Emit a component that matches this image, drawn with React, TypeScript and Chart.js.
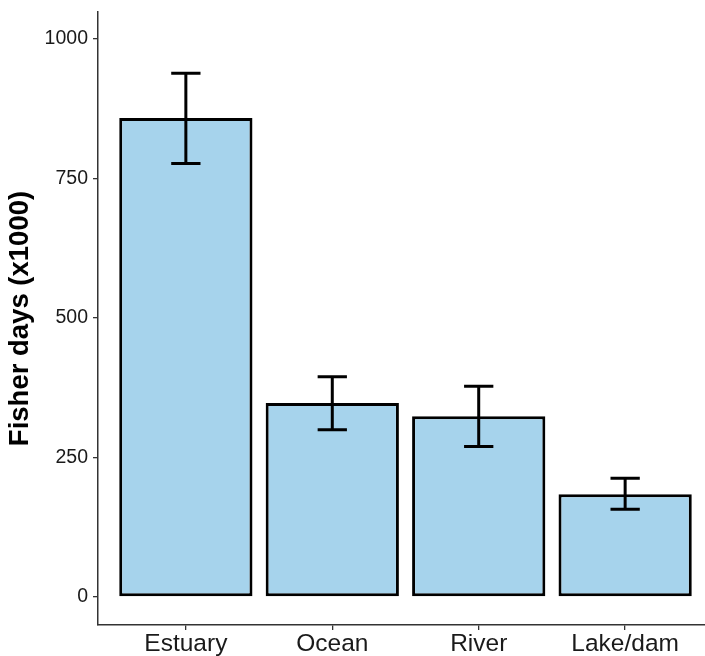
import React, { useEffect, useRef } from "react";
import { Chart, registerables } from "chart.js";

Chart.register(...registerables);

const categories = ["Estuary", "Ocean", "River", "Lake/dam"];
const positions = [1, 2, 3, 4];
const meanValues = [858.5, 347.7, 323.7, 184];
const lowerValues = [777, 299.8, 269.8, 157];
const upperValues = [938.8, 394.5, 377.7, 212.8];
const yTicks = [0, 250, 500, 750, 1000];

const FONT = "'Liberation Sans', Arial, sans-serif";

const errorBarPlugin = {
  id: "errorBars",
  afterDatasetsDraw(chart: any) {
    const { ctx, scales } = chart;
    const xs = scales.x;
    const ys = scales.y;
    ctx.save();
    ctx.strokeStyle = "#000";
    ctx.lineWidth = 3;
    ctx.lineCap = "butt";
    positions.forEach((p, i) => {
      const cx = xs.getPixelForValue(p);
      const half = (xs.getPixelForValue(p + 0.1) - xs.getPixelForValue(p - 0.1)) / 2;
      const yl = ys.getPixelForValue(lowerValues[i]);
      const yh = ys.getPixelForValue(upperValues[i]);
      ctx.beginPath();
      ctx.moveTo(cx, yl);
      ctx.lineTo(cx, yh);
      ctx.moveTo(cx - half, yh);
      ctx.lineTo(cx + half, yh);
      ctx.moveTo(cx - half, yl);
      ctx.lineTo(cx + half, yl);
      ctx.stroke();
    });
    ctx.restore();
  },
};

export default function App() {
  const ref = useRef<HTMLCanvasElement | null>(null);
  useEffect(() => {
    if (!ref.current) return;
    const chart = new Chart(ref.current, {
      type: "bar",
      data: {
        datasets: [
          {
            data: positions.map((p, i) => ({ x: p, y: meanValues[i] })),
            backgroundColor: "#A6D3EC",
            borderColor: "#000",
            borderWidth: 3,
            borderSkipped: false,
            categoryPercentage: 1,
            barPercentage: 0.91,
          },
        ],
      },
      options: {
        responsive: false,
        animation: false,
        devicePixelRatio: 1,
        layout: { padding: { top: 12, left: 0, right: 0, bottom: 0 } },
        plugins: { legend: { display: false }, tooltip: { enabled: false } },
        scales: {
          x: {
            type: "linear",
            offset: false,
            min: 0.4,
            max: 4.6,
            afterBuildTicks: (s: any) => {
              s.ticks = positions.map((v) => ({ value: v }));
            },
            afterFit: (s: any) => {
              s.height = 31;
              s.paddingLeft = 0;
              s.paddingRight = 0;
            },
            ticks: {
              autoSkip: false,
              maxRotation: 0,
              padding: 0,
              color: "#1a1a1a",
              font: { family: FONT, size: 24.5 },
              callback: (v: any) => categories[positions.indexOf(Number(v))] ?? "",
            },
            grid: {
              display: true,
              offset: false,
              drawOnChartArea: false,
              drawTicks: true,
              tickLength: 5,
              color: "#333",
              lineWidth: 1.3,
            },
            border: { display: true, color: "#333", width: 1.5 },
          },
          y: {
            type: "linear",
            min: -50.4,
            max: 1048.6,
            afterBuildTicks: (s: any) => {
              s.ticks = yTicks.map((v) => ({ value: v }));
            },
            afterFit: (s: any) => {
              s.width = 98;
              s.paddingTop = 0;
              s.paddingBottom = 0;
            },
            ticks: {
              padding: 5,
              color: "#1a1a1a",
              font: { family: FONT, size: 19.5 },
              callback: (v: any) => String(v),
            },
            grid: {
              display: true,
              drawOnChartArea: false,
              drawTicks: true,
              tickLength: 5,
              color: "#333",
              lineWidth: 1.3,
            },
            border: { display: true, color: "#333", width: 1.5 },
            title: {
              display: true,
              text: "Fisher days (x1000)",
              color: "#000",
              font: { family: FONT, size: 27.5, weight: "bold" },
              padding: { top: 4, bottom: 0 },
            },
          },
        },
      },
      plugins: [errorBarPlugin],
    });
    return () => chart.destroy();
  }, []);
  return (
    <div
      style={{
        position: "fixed",
        left: 0,
        top: 0,
        width: 705,
        height: 656,
        overflow: "hidden",
        background: "#fff",
      }}
    >
      <canvas ref={ref} width={713} height={656} style={{ display: "block" }} />
    </div>
  );
}
